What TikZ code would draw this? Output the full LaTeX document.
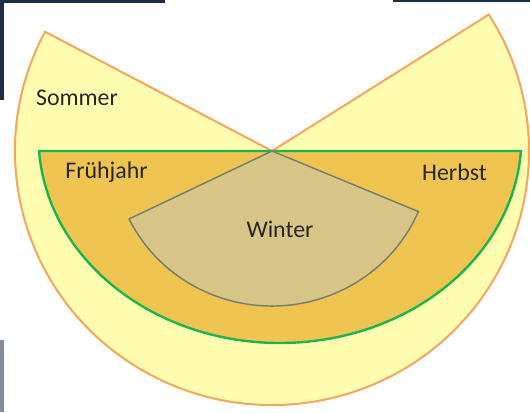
\documentclass[tikz,border=0pt]{standalone}
\usepackage{fontspec}
\setmainfont{Carlito}
\definecolor{sommer}{HTML}{FFFDB0}
\definecolor{sommerline}{HTML}{F2A65E}
\definecolor{uebergang}{HTML}{EFC451}
\definecolor{uebergangline}{HTML}{1DB34F}
\definecolor{winter}{HTML}{D8C688}
\definecolor{winterline}{HTML}{76806E}
\definecolor{photo}{HTML}{1E2C4A}
\colorlet{labeltext}{black!85}

\begin{document}
\begin{tikzpicture}[x=0.75pt, y=0.75pt, font=\fontsize{17.9}{21}\selectfont,
    season/.style={text=labeltext, inner sep=0pt}]
  \useasboundingbox (0,0) rectangle (530,412);
  % bits of the photo behind the cut-out
  \fill[photo] (0,409) rectangle (165,412);
  \fill[photo] (0,312) rectangle (4,412);
  \fill[photo] (393,410) rectangle (530,412);
  \fill[photo!55] (0,0) rectangle (4,72);
  \coordinate (apex) at (272,261);
  \coordinate (mid) at (280,275);
  % Sommer
  \filldraw[fill=sommer, draw=sommerline, line width=1.5]
    (apex) -- +(152:257 and 254)
    arc[start angle=152, end angle=392.5, x radius=257, y radius=254] -- cycle;
  % Fruehjahr / Herbst
  \filldraw[fill=uebergang, draw=uebergangline, line width=1.8]
    (mid) +(183.9:241.5 and 206)
    arc[start angle=183.9, end angle=356.1, x radius=241.5, y radius=206] -- cycle;
  % Winter
  \filldraw[fill=winter, draw=winterline, line width=1.1]
    (apex) -- +(206:159 and 155)
    arc[start angle=206, end angle=337, x radius=159, y radius=155] -- cycle;
  \node[season] (sommerlabel) at (77,314) {Sommer};
  \node[season] (fruehjahrlabel) at (106.5,240) {Frühjahr};
  \node[season] (herbstlabel) at (454.5,240) {Herbst};
  \node[season] (winterlabel) at (280,183) {Winter};
\end{tikzpicture}
\end{document}
